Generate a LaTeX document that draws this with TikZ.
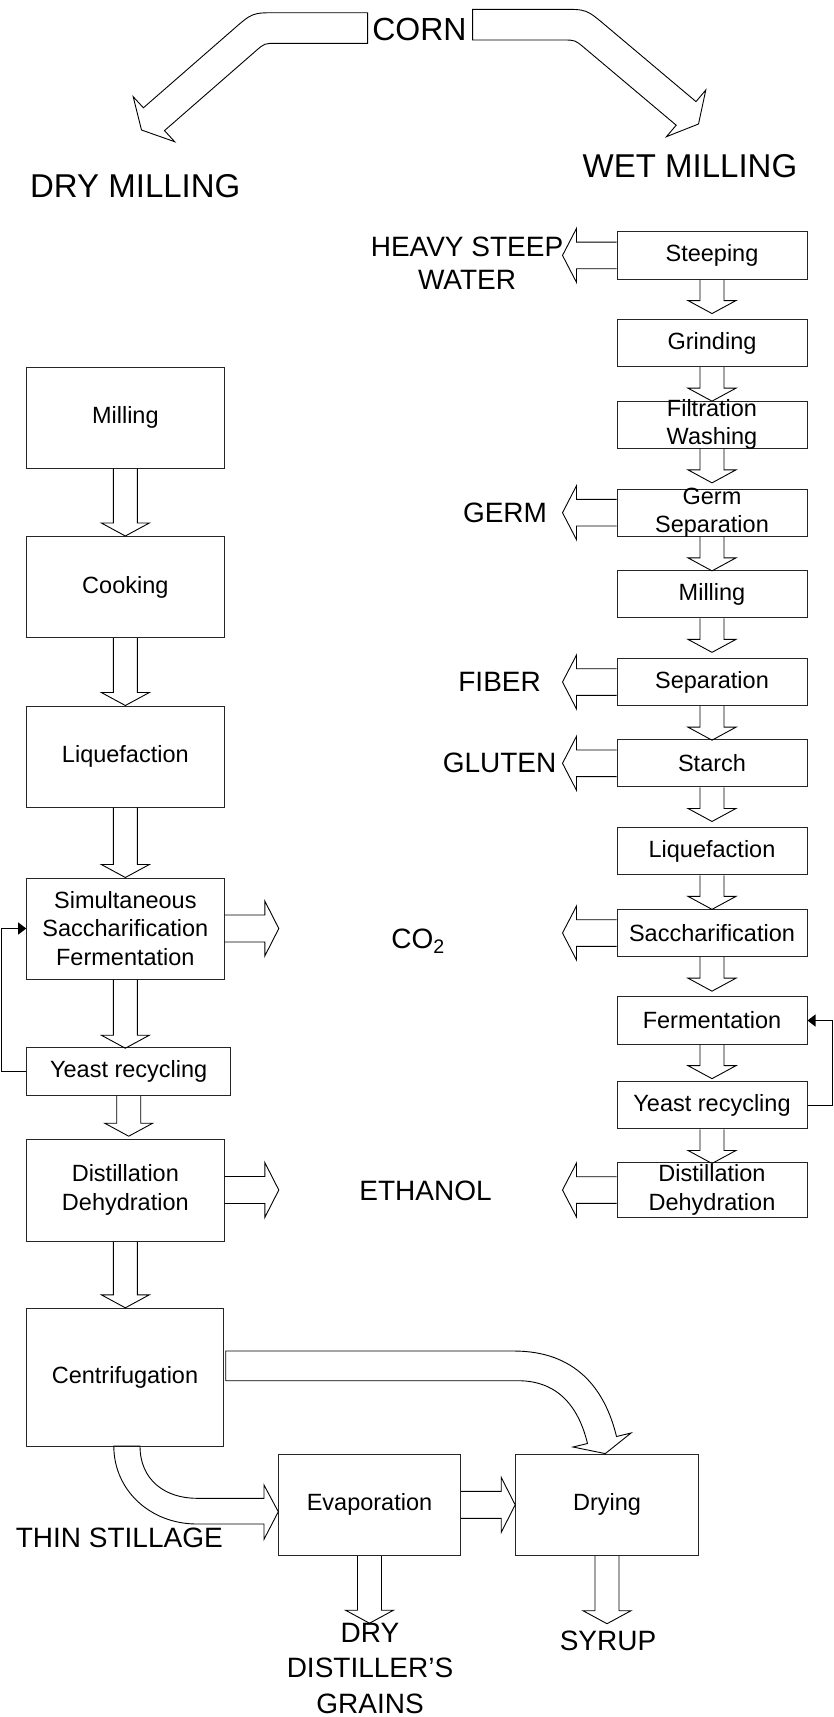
\documentclass[tikz,border=0pt]{standalone}
\usepackage{fontspec}
\setmainfont{Liberation Sans}
\usetikzlibrary{calc,arrows.meta}
\newcommand\boxfont{\fontsize{23.5pt}{28.2pt}\selectfont}
\newcommand\lblfont{\fontsize{28pt}{32.6pt}\selectfont}
\newcommand\ddgfont{\fontsize{28pt}{35.5pt}\selectfont}
\newcommand\bigfont{\fontsize{33pt}{38pt}\selectfont}
\newcommand\cornfont{\fontsize{32pt}{38pt}\selectfont}
% block arrows: #1 start point, #2 tip point
\newcommand\ArrDown[2]{\draw[blk] let \p1=#1, \p2=#2 in
  (\x1-12pt,\y1) -- (\x1-12pt,\y2+13pt) -- (\x1-24pt,\y2+13pt) -- (\x1,\y2)
  -- (\x1+24pt,\y2+13pt) -- (\x1+12pt,\y2+13pt) -- (\x1+12pt,\y1);}
\newcommand\ArrLeft[2]{\draw[blk] let \p1=#1, \p2=#2 in
  (\x1,\y1+13.3pt) -- (\x2+14pt,\y1+13.3pt) -- (\x2+14pt,\y1+27pt) -- (\x2,\y1)
  -- (\x2+14pt,\y1-27pt) -- (\x2+14pt,\y1-13.3pt) -- (\x1,\y1-13.3pt);}
\newcommand\ArrRight[2]{\draw[blk] let \p1=#1, \p2=#2 in
  (\x1,\y1+13.5pt) -- (\x2-14pt,\y1+13.5pt) -- (\x2-14pt,\y1+27.5pt) -- (\x2,\y1)
  -- (\x2-14pt,\y1-27.5pt) -- (\x2-14pt,\y1-13.5pt) -- (\x1,\y1-13.5pt);}
\begin{document}
\begin{tikzpicture}[x=1pt,y=-1pt,
  box/.style={draw=black!85, line width=1pt, inner sep=0pt},
  lbox/.style={box, minimum width=197.3pt, minimum height=101pt},
  rbox/.style={box, minimum width=190pt, minimum height=47.3pt},
  txt/.style={inner sep=0pt, align=center, font=\boxfont},
  lbl/.style={inner sep=0pt, align=center, font=\lblfont},
  blk/.style={draw=black, line width=0.9pt, line join=miter},
  fb/.style={draw=black, line width=1.2pt, -{Triangle[length=8pt,width=12pt]}}]
\useasboundingbox (0,0) rectangle (834,1717);

% ---------- titles ----------
\node[inner sep=0pt, font=\cornfont] (corn) at (419.5,29) {CORN};
\node[inner sep=0pt, font=\bigfont] (drym) at (135.3,185.7) {DRY MILLING};
\node[inner sep=0pt, font=\bigfont] (wetm) at (690,166) {WET MILLING};

% top bent arrows
\draw[blk] (367.6,43.3) -- (367.6,12.7) -- (277.4,12.7) .. controls (252.4,12.7) .. (233.6,29.1)
  -- (143.4,107.8) -- (133.2,96.7) -- (141.5,130) -- (174.7,141.7) -- (164.5,130.6)
  -- (255.5,51.2) .. controls (264.5,43.3) .. (276.5,43.3) -- cycle;
\draw[blk] (472.6,40) -- (472.6,9.3) -- (561.4,9.3) .. controls (586.4,9.3) .. (605.5,25.4)
  -- (696,101.6) -- (705.8,90) -- (698.5,124) -- (666.4,136.7) -- (676.2,125.2)
  -- (584.2,47.7) .. controls (575,40) .. (563,40) -- cycle;

% ---------- dry milling column ----------
\node[lbox] (lmill) at (125.35,417.5) {};
\node[lbox] (lcook) at (125.35,587) {};
\node[lbox] (lliq) at (125.35,756.5) {};
\node[lbox] (lssf) at (125.35,928.5) {};
\node[box, minimum width=204pt, minimum height=47.3pt] (lyeast) at (128.7,1071.35) {};
\node[box, minimum width=197.3pt, minimum height=102pt] (ldist) at (125.35,1190) {};
\node[box, minimum width=196.8pt, minimum height=137.7pt] (lcent) at (125,1377.15) {};
\node[box, minimum width=182.4pt, minimum height=101.7pt] (evap) at (369.5,1504.85) {};
\node[box, minimum width=182.6pt, minimum height=101.7pt] (dry) at (607,1504.85) {};

\node[txt] (tlmill) at (lmill) {Milling};
\node[txt] (tlcook) at (lcook) {Cooking};
\node[txt] (tlliq) at (lliq) {Liquefaction};
\node[txt] (tlssf) at (lssf) {Simultaneous\\Saccharification\\Fermentation};
\node[txt] (tlyeast) at (lyeast) {Yeast recycling};
\node[txt] (tldist) at (ldist) {Distillation\\Dehydration};
\node[txt] (tlcent) at (lcent) {Centrifugation};
\node[txt] (tevap) at (evap) {Evaporation};
\node[txt] (tdry) at (dry) {Drying};

\ArrDown{(lmill.south)}{(lcook.north)}
\ArrDown{(lcook.south)}{(lliq.north)}
\ArrDown{(lliq.south)}{(lssf.north)}
\ArrDown{(lssf.south)}{($(lssf.south)+(0,68.7)$)}
\ArrDown{(lyeast.south)}{($(lyeast.south)+(0,40.7)$)}
\ArrDown{(ldist.south)}{(lcent.north)}
\ArrDown{(evap.south)}{($(evap.south)+(0,67)$)}
\ArrDown{(dry.south)}{($(dry.south)+(0,67.5)$)}
\ArrRight{(lssf.east)}{($(lssf.east)+(54.3,0)$)}
\ArrRight{(ldist.east)}{($(ldist.east)+(54.3,0)$)}
\ArrRight{(evap.east)}{(dry.west)}

\draw[fb] (lyeast.west) -- ++(-25,0) |- (lssf.west);

% centrifugation -> drying (bent)
\draw[blk] (225.7,1380.7) -- (225.7,1351) -- (513.8,1351)
  .. controls (575,1351) and (604.75,1387.9) .. (616.5,1436.5)
  -- (631,1433) -- (605.3,1453.6) -- (573,1447) -- (587.5,1443.5)
  .. controls (579.3,1409.5) and (560,1380.7) .. (518,1380.7) -- cycle;
% centrifugation -> evaporation (thin stillage)
\draw[blk] (113.8,1446) .. controls (113.8,1490) and (150,1524) .. (197,1524)
  -- (264,1524) -- (264,1539.3) -- (278.3,1511.7) -- (264,1485) -- (264,1498.3)
  -- (197,1498.3) .. controls (165,1498.3) and (140,1480) .. (140,1446) -- cycle;

\node[lbl] (thin) at (119.3,1537.5) {THIN STILLAGE};
\node[inner sep=0pt, align=center, font=\ddgfont] (ddg) at (370,1668.3) {DRY\\DISTILLER’S\\GRAINS};
\node[lbl] (syrup) at (608,1641.2) {SYRUP};

% ---------- wet milling column ----------
\node[rbox] (steep) at (712,255.4) {};
\node[rbox] (grind) at (712,343) {};
\node[rbox] (filt) at (712,424.7) {};
\node[rbox] (germ) at (712,512.7) {};
\node[rbox] (rmill) at (712,594.2) {};
\node[rbox] (sep) at (712,682) {};
\node[rbox] (starch) at (712,763.3) {};
\node[rbox] (rliq) at (712,851.2) {};
\node[rbox] (sacch) at (712,933) {};
\node[rbox] (ferm) at (712,1020.5) {};
\node[rbox] (ryeast) at (712,1105.3) {};
\node[box, minimum width=190pt, minimum height=54.6pt] (rdist) at (712,1190) {};

\node[txt] (tsteep) at (steep) {Steeping};
\node[txt] (tgrind) at (grind) {Grinding};
\node[txt] (tfilt) at (filt) {Filtration\\Washing};
\node[txt] (tgerm) at (germ) {Germ\\Separation};
\node[txt] (trmill) at (rmill) {Milling};
\node[txt] (tsep) at (sep) {Separation};
\node[txt] (tstarch) at (starch) {Starch};
\node[txt] (trliq) at (rliq) {Liquefaction};
\node[txt] (tsacch) at (sacch) {Saccharification};
\node[txt] (tferm) at (ferm) {Fermentation};
\node[txt] (tryeast) at (ryeast) {Yeast recycling};
\node[txt] (trdist) at (rdist) {Distillation\\Dehydration};

\foreach \bx in {steep,grind,filt,germ,rmill,sep,starch,rliq,sacch,ferm,ryeast}{
  \ArrDown{(\bx.south)}{($(\bx.south)+(0,34)$)}
}
\foreach \bx in {steep,germ,sep,starch,sacch,rdist}{
  \ArrLeft{(\bx.west)}{($(\bx.west)+(-54,0)$)}
}
\draw[fb] (ryeast.east) -- ++(25,0) |- (ferm.east);

% side labels
\node[lbl] (hsw) at (467,263) {HEAVY STEEP\\WATER};
\node[lbl] (germl) at (505,512.5) {GERM};
\node[lbl] (fiber) at (499.6,682) {FIBER};
\node[lbl] (gluten) at (499.6,763) {GLUTEN};
\node[lbl, anchor=base] (co2) at (418,948.3) {CO\textsubscript{2}};
\node[lbl] (ethanol) at (425.5,1191) {ETHANOL};
\end{tikzpicture}
\end{document}
